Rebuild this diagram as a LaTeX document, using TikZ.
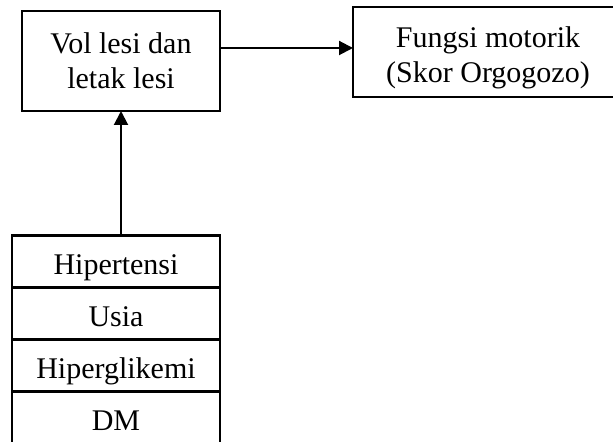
\documentclass[tikz,border=0pt]{standalone}
\usepackage{fontspec}
\setmainfont{Liberation Serif}
\usetikzlibrary{positioning,arrows.meta}
\begin{document}
\begin{tikzpicture}[x=0.5pt,y=-0.5pt,
	box/.style={draw,line width=1.1pt,align=center,outer sep=0pt,inner sep=0pt,
		font=\fontsize{15}{17.5}\selectfont},
	row/.style={box,minimum width=104pt,minimum height=26pt,text height=13pt,text depth=0pt},
	arr/.style={line width=1pt,-{Triangle[length=7pt,width=7pt]}}]
	%Page frame, everything outside is cut off
	\clip (0,0) rectangle (613,442);
	%Upper boxes
	\coordinate (centerVol) at (121,61);
	\coordinate (centerFungsi) at (488,58);
	\node [box,minimum width=99pt,minimum height=50pt] (vol) at (centerVol) {Vol lesi dan\\letak lesi};
	\node [box,draw=none,minimum width=135pt] (fungsi) at (centerFungsi) {Fungsi motorik\\(Skor Orgogozo)};
	%Right box runs past the page edge
	\coordinate (fungsiTop) at (0,7);
	\coordinate (fungsiEnd) at (650,97);
	\draw [line width=1.1pt] (fungsi.west |- fungsiTop) rectangle (fungsiEnd);
	%Stack of factors
	\coordinate (centerHip) at (116,261.5);
	\node [row] (hip) at (centerHip) {Hipertensi};
	\node [row,below=0pt of hip] (usia) {Usia};
	\node [row,below=0pt of usia] (hipg) {Hiperglikemi};
	\node [row,below=0pt of hipg] (dm) {DM};
	%Arrows
	\coordinate (arrowY) at (0,48);
	\draw [arr] (vol.east |- arrowY) -- (fungsi.west |- arrowY);
	\draw [arr] (vol.south |- hip.north) -- (vol.south);
\end{tikzpicture}
\end{document}
